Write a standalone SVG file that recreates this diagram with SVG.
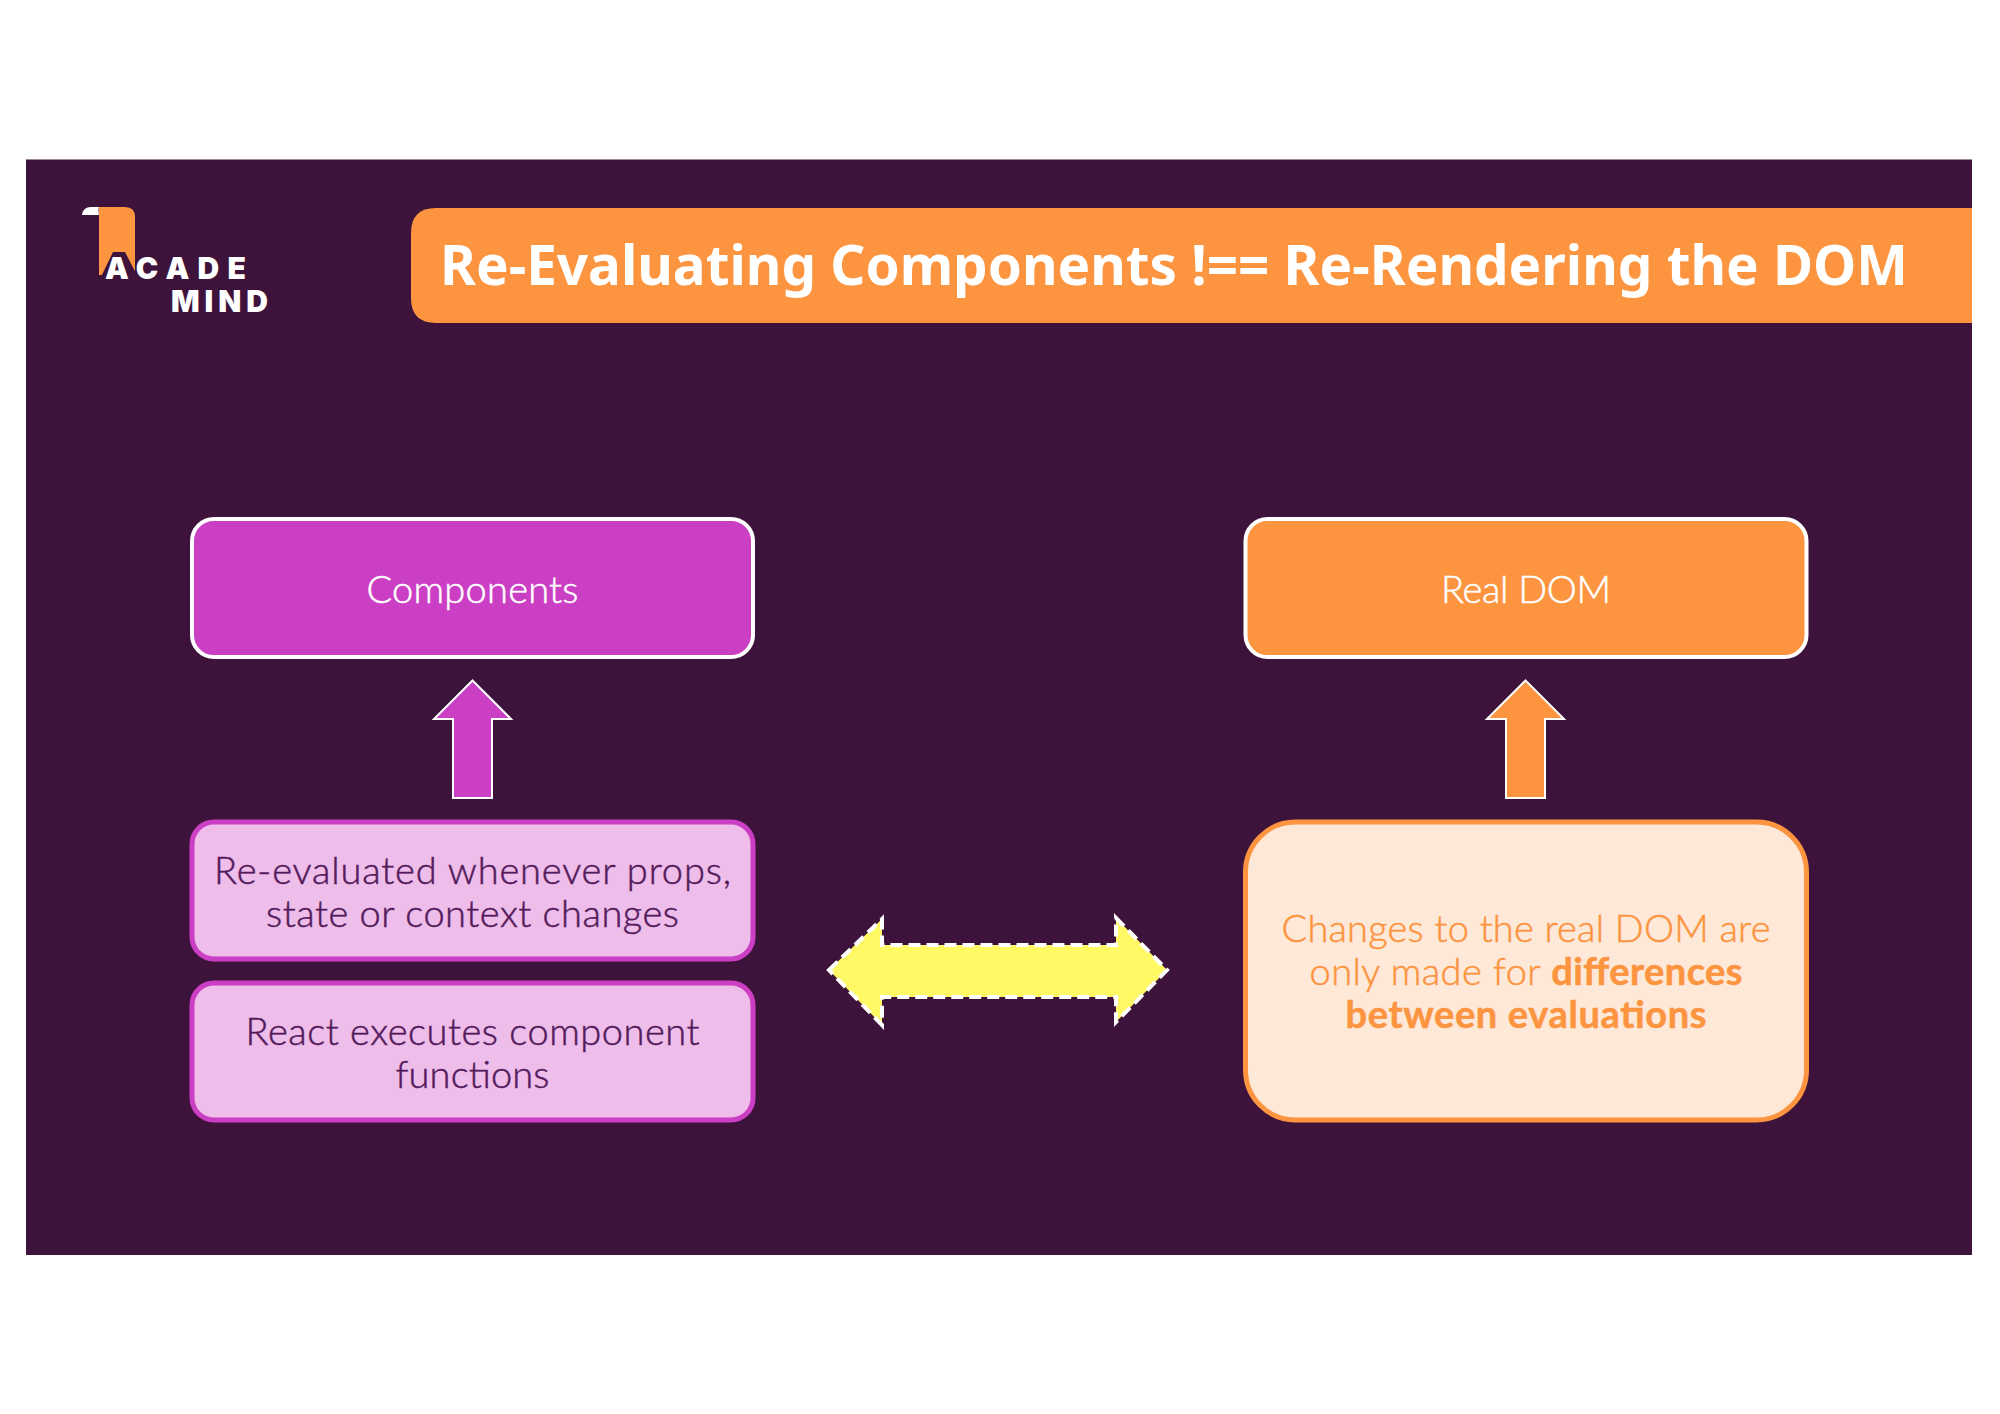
<svg xmlns="http://www.w3.org/2000/svg" width="2000" height="1414" viewBox="0 0 2000 1414">
<style>
.body{font-family:"Lato","Noto Sans",sans-serif;font-size:38px;font-weight:300;text-anchor:middle;stroke-width:.5px}
.b{font-weight:700}
.wt{fill:#fff;stroke:#fff}.dk{fill:#541b5c;stroke:#541b5c}.or{fill:#fc9440;stroke:#fc9440}
.logo{font-family:"Inter","Liberation Sans",sans-serif;font-weight:900;font-size:30px;fill:#fff}
.pbox{fill:#eebde9;stroke:#cb3fc4;stroke-width:5}
</style>
<rect width="2000" height="1414" fill="#fff"/>
<rect x="26" y="159.500" width="1946" height="1095.500" fill="#3e133b"/>
<g id="logo">
<path d="M99 207H125Q135 207 135 217V275H99Z" fill="#fc9440"/>
<path d="M82 215Q83 207 91 207H99Q98 209 99 215Z" fill="#fff"/>
<path d="M100 279L113 252H125L139 279Z" fill="#3e133b"/>
<text class="logo" x="105" y="279" textLength="141">ACADE</text>
<text class="logo" x="171" y="312" textLength="97">MIND</text>
</g>
<g id="title">
<path d="M1972 208H436Q411 208 411 233V298Q411 323 436 323H1972Z" fill="#fc9440"/>
<text x="440" y="285" font-family="'Noto Sans','Open Sans',sans-serif" font-weight="700" font-size="56" fill="#fff" textLength="1468" lengthAdjust="spacingAndGlyphs">Re-Evaluating Components !== Re-Rendering the DOM</text>
</g>
<g id="components">
<rect x="192" y="519" width="561" height="138" rx="22" fill="#cb3fc4" stroke="#fff" stroke-width="4"/>
<text class="body wt" x="472.500" y="603" textLength="212">Components</text>
</g>
<g id="real-dom">
<rect x="1245.500" y="519" width="561" height="138" rx="22" fill="#fc9440" stroke="#fff" stroke-width="4"/>
<text class="body wt" x="1526" y="603" textLength="170">Real DOM</text>
</g>
<g id="re-evaluated">
<rect class="pbox" x="192" y="822" width="561" height="137" rx="22"/>
<text class="body dk" x="472.500" y="884" textLength="517">Re-evaluated whenever props,</text>
<text class="body dk" x="472.500" y="927" textLength="413">state or context changes</text>
</g>
<g id="react-executes">
<rect class="pbox" x="192" y="983" width="561" height="137" rx="22"/>
<text class="body dk" x="472.500" y="1045" textLength="454">React executes component</text>
<text class="body dk" x="472.500" y="1088" textLength="154">functions</text>
</g>
<g id="changes">
<rect x="1245.500" y="822" width="561" height="298" rx="50" fill="#fee8d8" stroke="#fc9440" stroke-width="5"/>
<text class="body or" x="1526" y="942" textLength="489">Changes to the real DOM are</text>
<text class="body or" x="1526" y="985" textLength="433">only made for <tspan class="b">differences</tspan></text>
<text class="body or b" x="1526" y="1028" textLength="361">between evaluations</text>
</g>
<g id="connectors">
<path d="M472.500 680.500L511 719H492V798H453V719H434Z" fill="#cb3fc4" stroke="#fff" stroke-width="2"/>
<path d="M1525.500 680.500L1564 719H1545V798H1506V719H1487Z" fill="#fc9440" stroke="#fff" stroke-width="2"/>
<path d="M829 970L882 919V945H1116V918L1167 970L1116 1022V997H882V1025Z" fill="#fff965" stroke="#fff" stroke-width="4" stroke-dasharray="12 6"/>
</g>
</svg>
